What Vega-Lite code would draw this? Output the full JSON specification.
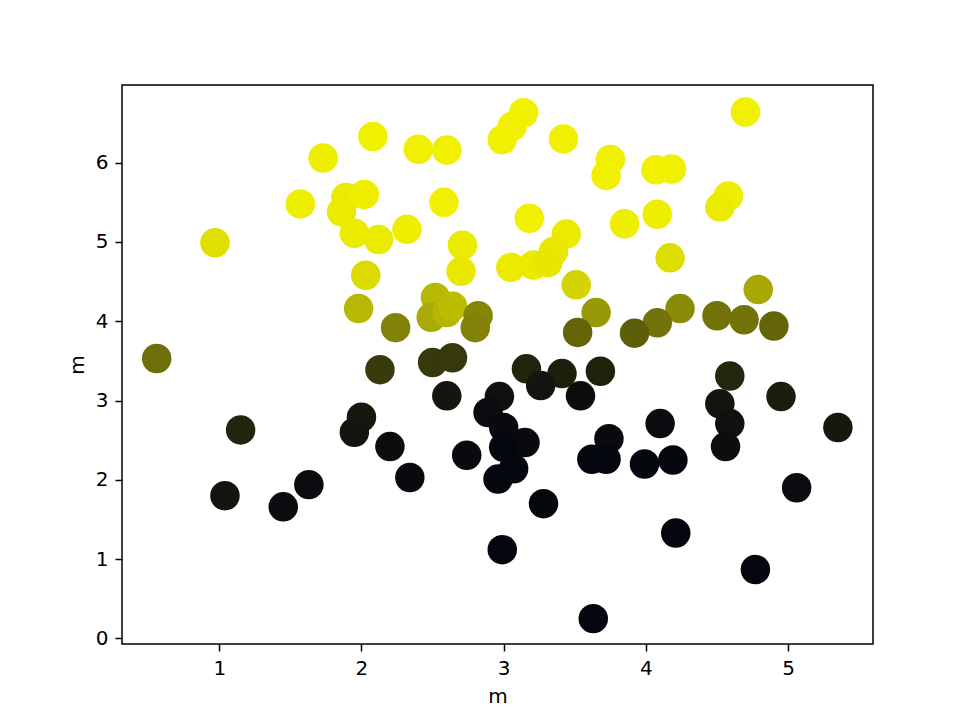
{
  "$schema": "https://vega.github.io/schema/vega-lite/v6.json",
  "width": 751,
  "height": 559,
  "autosize": "none",
  "padding": {"left": 122, "top": 85, "right": 96, "bottom": 81},
  "background": "white",
  "config": {
    "view": {"stroke": "black", "strokeWidth": 1.5},
    "font": "DejaVu Sans",
    "axis": {
      "grid": false,
      "domain": false,
      "tickColor": "black",
      "tickSize": 7,
      "tickWidth": 1.5,
      "labelFont": "DejaVu Sans",
      "labelFontSize": 20,
      "labelColor": "black",
      "labelPadding": 7,
      "titleFont": "DejaVu Sans",
      "titleFontSize": 20,
      "titleFontWeight": "normal",
      "titleColor": "black",
      "titlePadding": 8
    }
  },
  "data": {"values": [
    {"x": 4.70, "y": 6.64, "c": 1.0},
    {"x": 3.14, "y": 6.63, "c": 1.0},
    {"x": 3.06, "y": 6.46, "c": 1.0},
    {"x": 2.99, "y": 6.29, "c": 1.0},
    {"x": 2.08, "y": 6.33, "c": 1.0},
    {"x": 1.73, "y": 6.06, "c": 0.99},
    {"x": 2.40, "y": 6.17, "c": 1.0},
    {"x": 2.60, "y": 6.16, "c": 1.0},
    {"x": 3.42, "y": 6.30, "c": 1.0},
    {"x": 3.75, "y": 6.04, "c": 1.0},
    {"x": 3.72, "y": 5.84, "c": 1.0},
    {"x": 4.07, "y": 5.91, "c": 1.0},
    {"x": 4.18, "y": 5.92, "c": 1.0},
    {"x": 4.58, "y": 5.58, "c": 0.99},
    {"x": 4.52, "y": 5.44, "c": 0.98},
    {"x": 4.08, "y": 5.35, "c": 0.99},
    {"x": 3.85, "y": 5.23, "c": 0.99},
    {"x": 4.17, "y": 4.80, "c": 0.92},
    {"x": 4.79, "y": 4.40, "c": 0.69},
    {"x": 4.24, "y": 4.16, "c": 0.57},
    {"x": 4.50, "y": 4.07, "c": 0.47},
    {"x": 4.69, "y": 4.02, "c": 0.47},
    {"x": 4.90, "y": 3.94, "c": 0.41},
    {"x": 4.08, "y": 3.98, "c": 0.47},
    {"x": 3.92, "y": 3.85, "c": 0.38},
    {"x": 0.97, "y": 4.99, "c": 0.93},
    {"x": 1.57, "y": 5.48, "c": 0.99},
    {"x": 1.89, "y": 5.56, "c": 0.98},
    {"x": 2.02, "y": 5.60, "c": 0.99},
    {"x": 1.86, "y": 5.38, "c": 0.98},
    {"x": 1.95, "y": 5.11, "c": 0.98},
    {"x": 2.12, "y": 5.03, "c": 0.98},
    {"x": 2.03, "y": 4.58, "c": 0.91},
    {"x": 1.98, "y": 4.16, "c": 0.76},
    {"x": 0.56, "y": 3.53, "c": 0.45},
    {"x": 2.58, "y": 5.50, "c": 1.0},
    {"x": 2.32, "y": 5.16, "c": 0.99},
    {"x": 2.71, "y": 4.96, "c": 0.98},
    {"x": 2.70, "y": 4.63, "c": 0.97},
    {"x": 3.18, "y": 5.30, "c": 1.0},
    {"x": 3.44, "y": 5.10, "c": 0.98},
    {"x": 3.35, "y": 4.88, "c": 0.97},
    {"x": 3.05, "y": 4.68, "c": 0.98},
    {"x": 3.21, "y": 4.71, "c": 0.98},
    {"x": 3.31, "y": 4.74, "c": 0.96},
    {"x": 3.51, "y": 4.46, "c": 0.88},
    {"x": 3.65, "y": 4.11, "c": 0.63},
    {"x": 3.52, "y": 3.86, "c": 0.41},
    {"x": 2.52, "y": 4.30, "c": 0.76},
    {"x": 2.49, "y": 4.05, "c": 0.70},
    {"x": 2.60, "y": 4.11, "c": 0.75},
    {"x": 2.64, "y": 4.19, "c": 0.78},
    {"x": 2.82, "y": 4.07, "c": 0.55},
    {"x": 2.80, "y": 3.92, "c": 0.53},
    {"x": 2.24, "y": 3.92, "c": 0.53},
    {"x": 2.13, "y": 3.39, "c": 0.23},
    {"x": 2.50, "y": 3.48, "c": 0.22},
    {"x": 2.64, "y": 3.54, "c": 0.22},
    {"x": 3.16, "y": 3.40, "c": 0.13},
    {"x": 3.41, "y": 3.34, "c": 0.11},
    {"x": 3.68, "y": 3.37, "c": 0.12},
    {"x": 3.26, "y": 3.19, "c": 0.07},
    {"x": 3.54, "y": 3.06, "c": 0.04},
    {"x": 2.60, "y": 3.06, "c": 0.07},
    {"x": 2.97, "y": 3.05, "c": 0.05},
    {"x": 2.89, "y": 2.85, "c": 0.03},
    {"x": 3.00, "y": 2.66, "c": 0.02},
    {"x": 3.15, "y": 2.47, "c": 0.02},
    {"x": 3.00, "y": 2.41, "c": 0.01},
    {"x": 3.07, "y": 2.14, "c": 0.01},
    {"x": 2.96, "y": 2.01, "c": 0.01},
    {"x": 2.74, "y": 2.31, "c": 0.02},
    {"x": 2.20, "y": 2.42, "c": 0.04},
    {"x": 2.34, "y": 2.03, "c": 0.02},
    {"x": 3.28, "y": 1.70, "c": 0.01},
    {"x": 2.99, "y": 1.12, "c": 0.01},
    {"x": 3.63, "y": 0.25, "c": 0.0},
    {"x": 3.74, "y": 2.52, "c": 0.02},
    {"x": 3.62, "y": 2.26, "c": 0.01},
    {"x": 3.72, "y": 2.26, "c": 0.01},
    {"x": 2.00, "y": 2.79, "c": 0.08},
    {"x": 1.95, "y": 2.60, "c": 0.07},
    {"x": 1.15, "y": 2.63, "c": 0.13},
    {"x": 1.04, "y": 1.80, "c": 0.07},
    {"x": 1.45, "y": 1.66, "c": 0.03},
    {"x": 1.63, "y": 1.94, "c": 0.03},
    {"x": 4.59, "y": 3.31, "c": 0.14},
    {"x": 4.95, "y": 3.05, "c": 0.10},
    {"x": 5.35, "y": 2.66, "c": 0.08},
    {"x": 4.52, "y": 2.96, "c": 0.07},
    {"x": 4.59, "y": 2.71, "c": 0.05},
    {"x": 4.56, "y": 2.42, "c": 0.04},
    {"x": 4.10, "y": 2.71, "c": 0.03},
    {"x": 3.99, "y": 2.20, "c": 0.01},
    {"x": 4.19, "y": 2.25, "c": 0.01},
    {"x": 5.06, "y": 1.90, "c": 0.03},
    {"x": 4.21, "y": 1.33, "c": 0.01},
    {"x": 4.77, "y": 0.87, "c": 0.01}
  ]},
  "mark": {"type": "circle", "size": 870, "opacity": 1},
  "encoding": {
    "x": {
      "field": "x", "type": "quantitative",
      "scale": {"domain": [0.316, 5.597], "nice": false, "zero": false},
      "axis": {"values": [1, 2, 3, 4, 5], "title": "m"}
    },
    "y": {
      "field": "y", "type": "quantitative",
      "scale": {"domain": [-0.07, 6.98], "nice": false, "zero": false},
      "axis": {"values": [0, 1, 2, 3, 4, 5, 6], "title": "m"}
    },
    "color": {
      "field": "c", "type": "quantitative",
      "scale": {"domain": [0, 1], "range": ["#03050f", "#f0f000"], "interpolate": "rgb"},
      "legend": null
    }
  }
}
